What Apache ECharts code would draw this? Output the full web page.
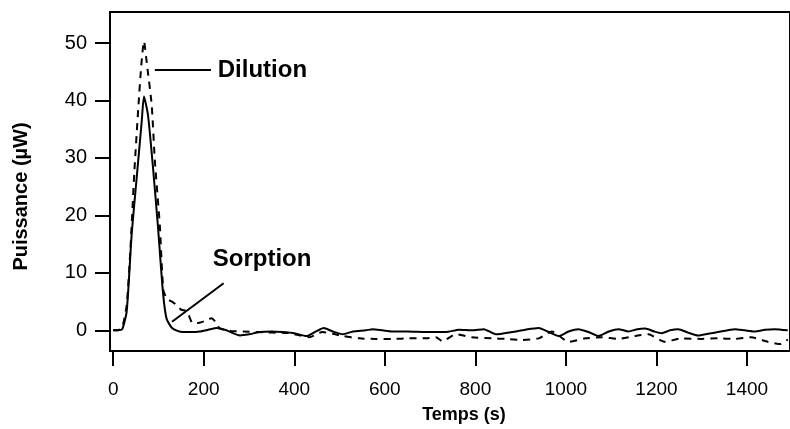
<!DOCTYPE html>
<html>
<head>
<meta charset="utf-8">
<script src="https://cdn.jsdelivr.net/npm/echarts@6/dist/echarts.min.js"></script>
<style>
  html, body { margin: 0; padding: 0; background: #fff; }
  #chart { width: 790px; height: 429px; }
</style>
</head>
<body>
<div id="chart"></div>
<script>
// temps (s) / puissance (µW)
const solidTime = [0, 10, 20, 30, 41, 52, 63, 68, 77, 88, 99, 110, 118, 130, 142, 154, 175, 191, 210, 229, 250, 280, 300, 323, 350, 374, 400, 427, 448, 465, 485, 507, 530, 558, 573, 595, 617, 650, 691, 735, 764, 793, 819, 845, 881, 910, 940, 962, 984, 1006, 1028, 1050, 1072, 1095, 1116, 1138, 1158, 1175, 1195, 1211, 1230, 1248, 1270, 1292, 1314, 1336, 1373, 1395, 1417, 1440, 1461, 1490];
const solidPower = [0, 0, 0.2, 3.4, 16.9, 26.6, 36.3, 40.7, 37.4, 28.3, 18, 6.6, 2, 0.4, -0.1, -0.3, -0.3, -0.2, 0.1, 0.4, 0, -0.9, -0.7, -0.3, -0.2, -0.3, -0.5, -1.0, -0.2, 0.4, -0.2, -0.7, -0.2, 0, 0.2, 0, -0.2, -0.2, -0.3, -0.3, 0.1, 0, 0.2, -0.7, -0.3, 0.1, 0.4, -0.3, -1, -0.2, 0.2, -0.3, -1.0, -0.2, 0.2, -0.2, 0.2, 0.3, -0.2, -0.5, 0, 0.2, -0.4, -0.9, -0.6, -0.3, 0.2, 0, -0.2, 0.1, 0.2, 0];

const dashTime = [0, 10, 20, 30, 38, 47, 56, 62, 68, 75, 85, 92, 103, 111, 120, 130, 140, 150, 163, 176, 190, 205, 217, 226, 236, 260, 287, 320, 350, 390, 433, 462, 485, 507, 544, 580, 617, 654, 691, 713, 727, 757, 792, 836, 867, 902, 940, 969, 1006, 1043, 1079, 1116, 1153, 1182, 1219, 1255, 1299, 1336, 1373, 1409, 1446, 1475, 1490];
const dashPower = [0, 0, 0.5, 4.5, 14, 27.9, 39.3, 46, 50.3, 46, 39.3, 29.6, 18.3, 6.9, 5.4, 5.0, 4.4, 3.6, 3.3, 1.2, 1.3, 1.7, 2.1, 1.5, 0.3, -0.1, -0.2, -0.3, -0.4, -0.5, -1.2, -0.3, -0.6, -1, -1.4, -1.5, -1.5, -1.4, -1.4, -1.2, -1.9, -0.7, -1.2, -1.4, -1.5, -1.7, -1.4, -0.2, -2, -1.4, -1.2, -1.5, -1, -0.7, -2, -1.4, -1.5, -1.4, -1.5, -1.2, -2, -2.4, -1.6];

const xTicks = [0, 200, 400, 600, 800, 1000, 1200, 1400];
const yTicks = [0, 10, 20, 30, 40, 50];

// annotations (coordonnées en unités des axes)
const dilutionLine = [[92, 45.3], [216, 45.3]];
const sorptionLine = [[130, 1.5], [244, 8.2]];
const dilutionLabel = [231, 45.2];
const sorptionLabel = [220, 12.3];

const font = 'Liberation Sans, Arial, sans-serif';

const chart = echarts.init(document.getElementById('chart'));
chart.setOption({
  animation: false,
  textStyle: { fontFamily: font, color: '#000' },
  grid: {
    left: 110, right: -2, top: 12, bottom: 73,
    show: true, borderColor: '#000', borderWidth: 2
  },
  xAxis: {
    type: 'value',
    min: -7, max: 1495,
    name: 'Temps (s)',
    nameLocation: 'middle',
    nameGap: 55,
    nameTextStyle: { fontSize: 18, fontWeight: 'bold', color: '#000', padding: [0, 0, 0, 28] },
    splitLine: { show: false },
    axisLine: { show: false, onZero: false },
    axisTick: { show: true, inside: false, length: 15, lineStyle: { color: '#000', width: 2 }, customValues: xTicks },
    axisLabel: { fontSize: 19, color: '#000', margin: 29, customValues: xTicks, formatter: v => String(v) }
  },
  yAxis: {
    type: 'value',
    min: -3.6, max: 55.4,
    name: 'Puissance (µW)',
    nameLocation: 'middle',
    nameGap: 79,
    nameTextStyle: { fontSize: 20, fontWeight: 'bold', color: '#000', padding: [0, 30, 0, 0] },
    splitLine: { show: false },
    axisLine: { show: false, onZero: false },
    axisTick: { show: true, inside: false, length: 15, lineStyle: { color: '#000', width: 2 }, customValues: yTicks },
    axisLabel: { fontSize: 20, color: '#000', margin: 23, customValues: yTicks, formatter: v => String(v) }
  },
  series: [
    {
      name: 'dashed',
      type: 'line',
      data: dashTime.map((t, i) => [t, dashPower[i]]),
      showSymbol: false,
      smooth: 0.2,
      lineStyle: { color: '#000', width: 2, type: [7, 6] },
      emphasis: { disabled: true },
      z: 2
    },
    {
      name: 'solid',
      type: 'line',
      data: solidTime.map((t, i) => [t, solidPower[i]]),
      showSymbol: false,
      smooth: 0.2,
      lineStyle: { color: '#000', width: 2 },
      emphasis: { disabled: true },
      z: 3,
      markLine: {
        silent: true,
        symbol: 'none',
        label: { show: false },
        lineStyle: { color: '#000', width: 2, type: 'solid' },
        data: [
          [{ coord: dilutionLine[0] }, { coord: dilutionLine[1] }],
          [{ coord: sorptionLine[0] }, { coord: sorptionLine[1] }]
        ]
      },
      markPoint: {
        silent: true,
        symbol: 'circle',
        symbolSize: 0,
        label: {
          show: true,
          position: [0, 0],
          align: 'left',
          verticalAlign: 'middle',
          fontSize: 24,
          fontWeight: 'bold',
          color: '#000',
          fontFamily: font,
          formatter: p => p.name
        },
        data: [
          { name: 'Dilution', coord: dilutionLabel },
          { name: 'Sorption', coord: sorptionLabel }
        ]
      }
    }
  ]
});
</script>
</body>
</html>
